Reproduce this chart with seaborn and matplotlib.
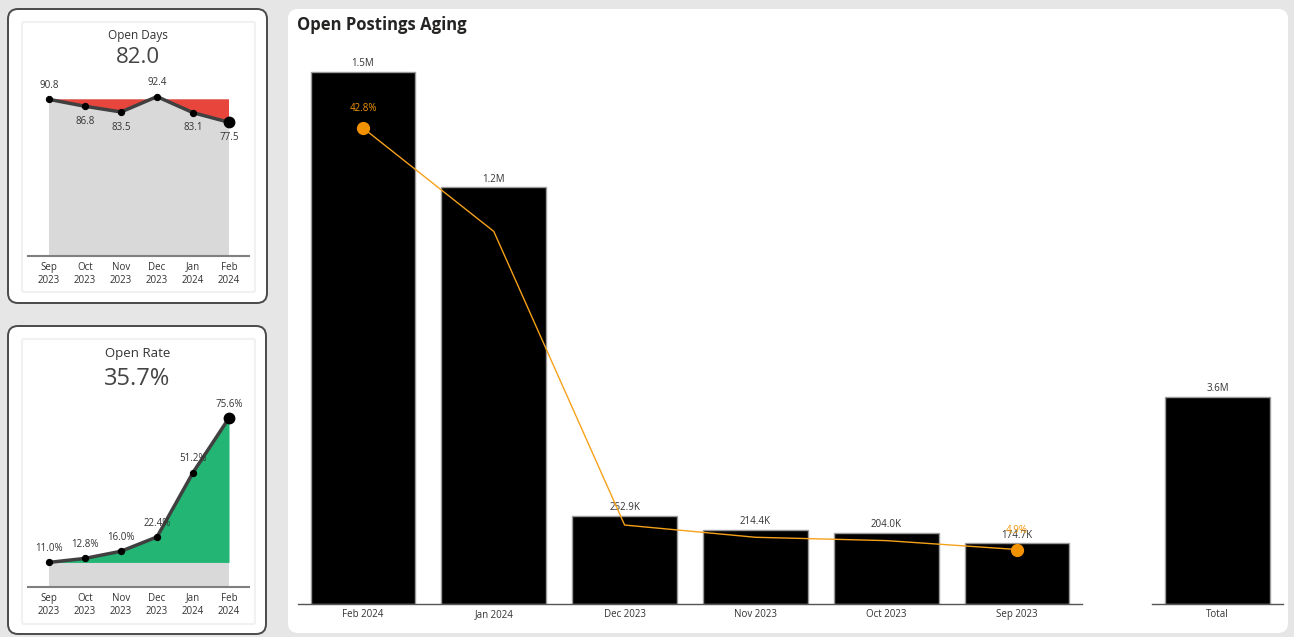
import numpy as np
import matplotlib
matplotlib.use("Agg")
import matplotlib.pyplot as plt
import seaborn as sns
from matplotlib.patches import FancyBboxPatch

# ---------------- data ----------------
months_main = ["Feb 2024", "Jan 2024", "Dec 2023", "Nov 2023", "Oct 2023", "Sep 2023"]
postings = [1532000, 1200000, 252900, 214400, 204000, 174700]
share_pct = [42.8, 33.5, 7.1, 6.0, 5.7, 4.9]
total_label = ["Total"]
total_value = [3578000]

trend_months = ["Sep\n2023", "Oct\n2023", "Nov\n2023", "Dec\n2023", "Jan\n2024", "Feb\n2024"]
open_days = [90.8, 86.8, 83.5, 92.4, 83.1, 77.5]
open_days_kpi = "82.0"
open_rate = [11.0, 12.8, 16.0, 22.4, 51.2, 75.6]
open_rate_kpi = "35.7%"

# ---------------- style ----------------
sns.set_style("white")
plt.rcParams["font.family"] = ["Open Sans", "DejaVu Sans"]

W, H = 1294, 637
fig = plt.figure(figsize=(W / 100, H / 100), dpi=100)
fig.patch.set_facecolor("#e6e6e6")


def rect(x0, y0, x1, y1):
    return [x0 / W, 1 - y1 / H, (x1 - x0) / W, (y1 - y0) / H]


# background panels
bg = fig.add_axes([0, 0, 1, 1])
bg.set_xlim(0, W)
bg.set_ylim(H, 0)
bg.axis("off")


def panel(x0, y0, x1, y1, ec="none", lw=0, r=10, fc="white"):
    bg.add_patch(FancyBboxPatch((x0, y0), x1 - x0, y1 - y0,
                                boxstyle=f"round,pad=0,rounding_size={r}",
                                fc=fc, ec=ec, lw=lw))


panel(8, 9, 267, 303, ec="#4a4a4a", lw=1.4)
panel(22, 22, 255, 292, ec="#f1f1f1", lw=1.5, r=2)
panel(8, 326, 266, 634, ec="#4a4a4a", lw=1.4)
panel(22, 339, 255, 624, ec="#f1f1f1", lw=1.5, r=2)
panel(288, 9, 1288, 633, r=10)

bg.text(297, 25, "Open Postings Aging", fontsize=12, fontweight="bold",
        color="#252423", va="center", ha="left")


def fmt_val(v):
    return f"{v / 1e6:.1f}M" if v >= 1e6 else f"{v / 1e3:.1f}K"


def style_bar_axes(ax, labels):
    ax.set_facecolor("none")
    for s in ["top", "right", "left"]:
        ax.spines[s].set_visible(False)
    ax.spines["bottom"].set_color("#555555")
    ax.spines["bottom"].set_linewidth(1)
    ax.set_yticks([])
    ax.set_xlabel("")
    ax.set_ylabel("")
    ax.set_xticks(np.arange(len(labels)))
    ax.set_xticklabels(labels, va="baseline")
    ax.tick_params(axis="x", length=0, pad=9.2, labelsize=7, labelcolor="#333333")


# ---------------- main bar chart ----------------
ax = fig.add_axes(rect(297.6, 45, 1082.4, 604))
sns.barplot(x=months_main, y=postings, ax=ax, color="black", width=0.8,
            edgecolor="#9a9a9a", linewidth=1, saturation=1)
ax.set_xlim(-0.5, len(months_main) - 0.5)
ax.set_ylim(0, postings[0] * 559 / 532)
style_bar_axes(ax, months_main)
ax.bar_label(ax.containers[0], labels=[fmt_val(v) for v in postings],
             padding=2, fontsize=7, color="#333333")

ax2 = ax.twinx()
ax2.set_facecolor("none")
xpos = np.arange(len(months_main))
sns.lineplot(x=xpos, y=share_pct, ax=ax2, color="#f5a11a", lw=1, sort=False)
ax2.set_ylim(0, share_pct[0] * 559 / 476)
ax2.axis("off")
for i in [0, len(share_pct) - 1]:
    ax2.plot(xpos[i], share_pct[i], "o", color="#f39200", ms=8.5)
    ax2.annotate(f"{share_pct[i]:.1f}%", (xpos[i], share_pct[i]), xytext=(0, 10),
                 textcoords="offset points", ha="center", va="bottom",
                 fontsize=7, color="#f39200")

# ---------------- total bar ----------------
axt = fig.add_axes(rect(1152, 45, 1283, 604))
sns.barplot(x=total_label, y=total_value, ax=axt, color="black", width=0.8,
            edgecolor="#9a9a9a", linewidth=1, saturation=1)
axt.set_xlim(-0.5, 0.5)
axt.set_ylim(0, total_value[0] * 559 / 207)
style_bar_axes(axt, total_label)
axt.bar_label(axt.containers[0], labels=[fmt_val(v) for v in total_value],
              padding=2, fontsize=7, color="#333333")


# ---------------- trend cards ----------------
def trend(rect_px, vals, kpi_title, kpi, title_y, kpi_y, scale, fmt, all_above,
          title_fs, kpi_fs):
    a = fig.add_axes(rect(*rect_px))
    a.set_facecolor("none")
    x = np.arange(len(vals))
    y = np.array(vals)
    ref = y[0]
    base_y = rect_px[3]
    top_y = rect_px[1]
    a.fill_between([x[0], x[-1]], 0, ref, color="#d9d9d9", lw=0)
    a.fill_between(x, y, ref, where=y < ref, interpolate=True, color="#e8453c", lw=0)
    a.fill_between(x, y, ref, where=y > ref, interpolate=True, color="#22b573", lw=0)
    sns.lineplot(x=x, y=y, ax=a, color="#404040", lw=2.5, marker="o", ms=4.5,
                 mec="black", mfc="black", sort=False)
    a.plot(x[-1], y[-1], "o", color="black", ms=7.5)
    a.set_xlim(-21 / 36, len(vals) - 1 + 20 / 36)
    a.set_ylim(0, (base_y - top_y) / scale)
    for i, v in enumerate(y):
        up = all_above or v >= ref
        a.annotate(fmt(v), (x[i], v), xytext=(0, 6 if up else -7),
                   textcoords="offset points", ha="center",
                   va="bottom" if up else "top", fontsize=7, color="#333333")
    a.set_xticks(x)
    a.set_xticklabels(trend_months, linespacing=1.35)
    a.tick_params(axis="x", length=0, pad=4, labelsize=7, labelcolor="#333333")
    a.set_yticks([])
    for s in ["top", "right", "left"]:
        a.spines[s].set_visible(False)
    a.spines["bottom"].set_color("#808080")
    a.spines["bottom"].set_linewidth(1.5)
    bg.text(137.5, title_y, kpi_title, ha="center", va="center", fontsize=title_fs,
            color="#333333")
    bg.text(137.5, kpi_y, kpi, ha="center", va="center", fontsize=kpi_fs,
            color="#444444")


trend((28, 75, 249, 256), open_days, "Open Days", open_days_kpi, 36, 57.5, 1.725,
      lambda v: f"{v:.1f}", False, 8.5, 16)
trend((28, 395, 249, 587), open_rate, "Open Rate", open_rate_kpi, 354, 379, 2.235,
      lambda v: f"{v:.1f}%", True, 9.5, 17)

fig.savefig("out.png", dpi=100, facecolor=fig.get_facecolor())
